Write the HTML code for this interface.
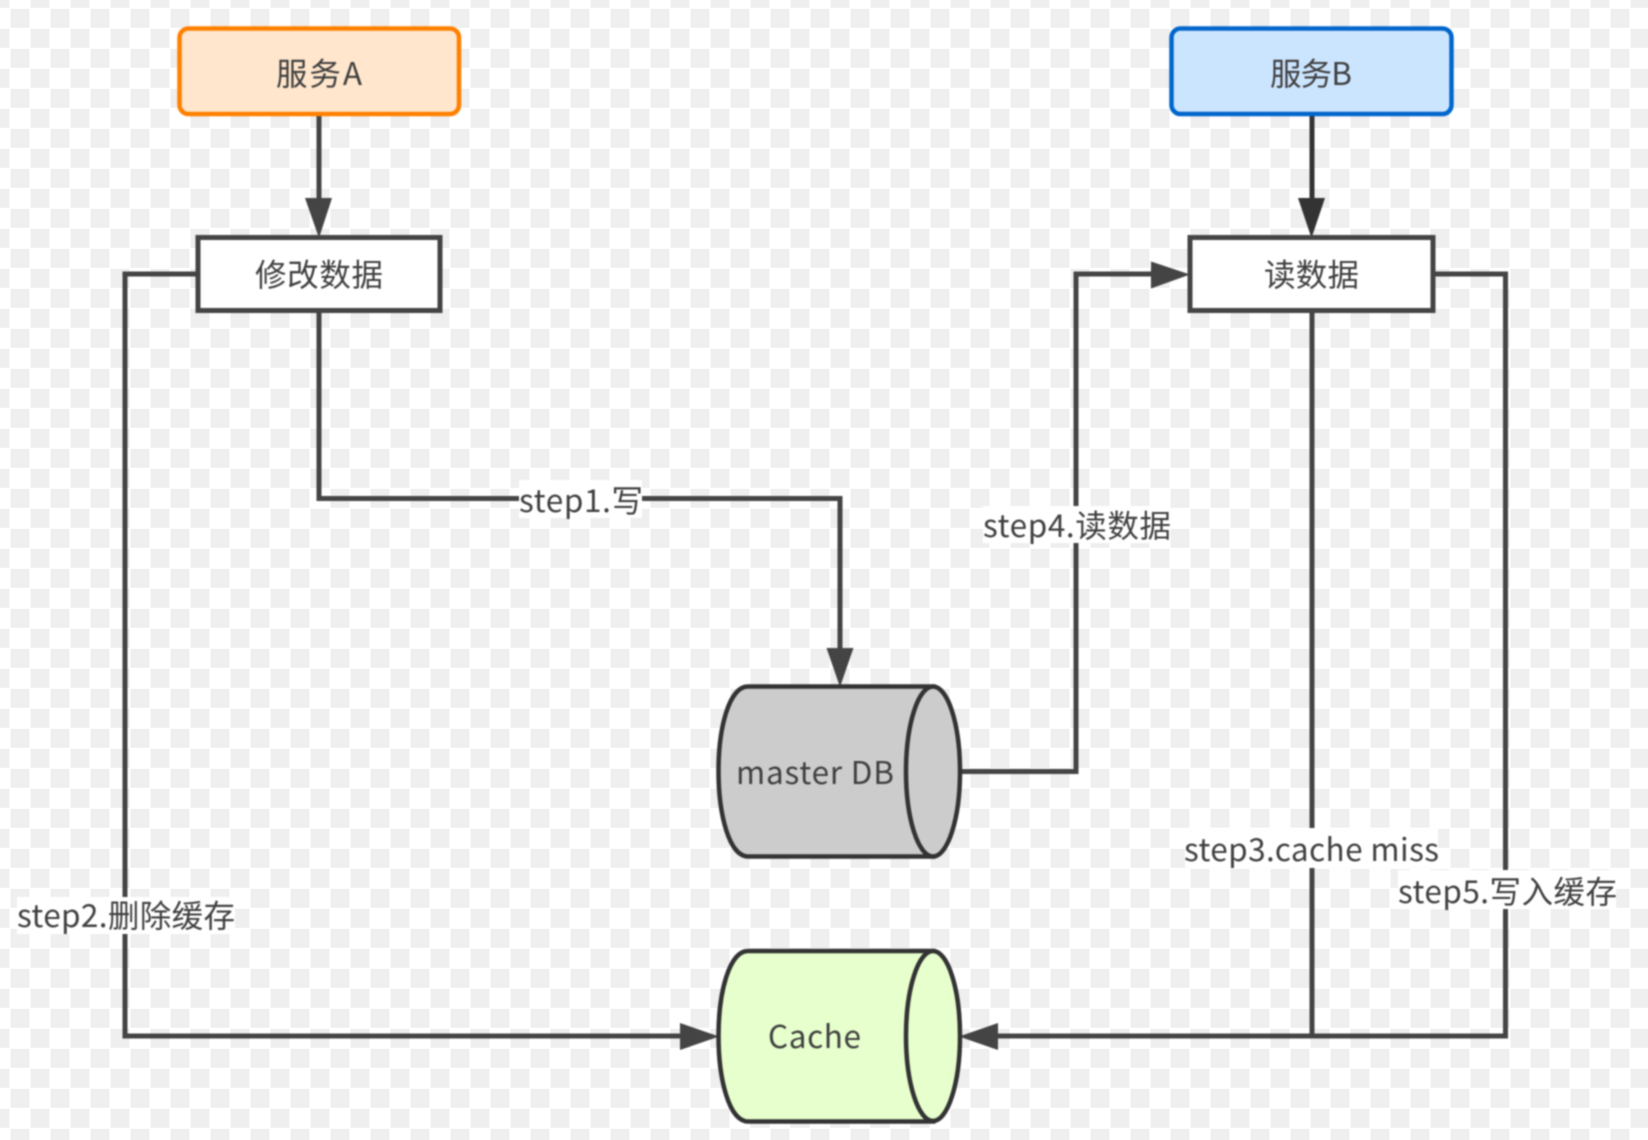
<!DOCTYPE html>
<html>
<head>
<meta charset="utf-8">
<style>
html,body{margin:0;padding:0;width:1648px;height:1140px;overflow:hidden;background:#fff}
#bg{position:absolute;left:0;top:0;width:1648px;height:1140px}
svg#d{position:absolute;left:0;top:0;filter:blur(0.7px)}
text{font-family:"Noto Sans CJK SC","Liberation Sans",sans-serif;font-size:31.5px;fill:#404040}
</style>
</head>
<body>
<svg id="bg" width="1648" height="1140" xmlns="http://www.w3.org/2000/svg">
<defs>
<pattern id="c" width="40" height="40" patternUnits="userSpaceOnUse" x="10" y="8.3">
<rect width="40" height="40" fill="#fff"/>
<rect x="0.5" y="0.5" width="19" height="19" fill="#efefef"/>
<rect x="20.5" y="20.5" width="19" height="19" fill="#efefef"/>
</pattern>
</defs>
<rect width="1648" height="1140" fill="url(#c)"/>
</svg>
<svg id="d" width="1648" height="1140" xmlns="http://www.w3.org/2000/svg">
<!-- connectors -->
<g fill="none" stroke="#444" stroke-width="5">
<path d="M319 115V200"/>
<path d="M319 312V498.5H840V650"/>
<path d="M196 274H125V1036H684"/>
<path d="M961 771.5H1076V274H1152"/>
<path d="M1312 312V1036"/>
<path d="M1435 274H1505.5V1036H998"/>
<path d="M1312 115V200" stroke="#333"/>
</g>
<!-- arrowheads -->
<g fill="#444">
<polygon points="305,198 332,198 319,238"/>
<polygon points="826.5,648 853.5,648 840,687"/>
<polygon points="680,1023 680,1050 719,1036.5"/>
<polygon points="998,1023 998,1050 959,1036.5"/>
<polygon points="1151,261.5 1151,288.5 1190,274.5"/>
<polygon points="1298,198 1325,198 1311.5,238" fill="#333"/>
</g>
<!-- service boxes -->
<rect x="179.5" y="28.5" width="279.5" height="85.5" rx="9" fill="#ffe6cc" stroke="#ff8000" stroke-width="4.5"/>
<rect x="1171.5" y="28.5" width="280" height="85.5" rx="9" fill="#cce5ff" stroke="#0066cc" stroke-width="4.5"/>
<!-- action boxes -->
<rect x="198" y="237.5" width="242" height="73" fill="#fff" stroke="#444" stroke-width="5"/>
<rect x="1190" y="237.5" width="243" height="73" fill="#fff" stroke="#444" stroke-width="5"/>
<!-- cylinders -->
<g stroke="#333" stroke-width="4.5">
<path d="M933 686.5H748C729 686.5 718.5 728 718.5 771S729 856.5 748 856.5H933Z" fill="#ccc"/>
<ellipse cx="933" cy="771.5" rx="27" ry="85" fill="#ccc"/>
<path d="M933 951H748C729 951 718.5 993 718.5 1036S729 1121.5 748 1121.5H933Z" fill="#e6ffcc"/>
<ellipse cx="933" cy="1036" rx="27" ry="85" fill="#e6ffcc"/>
</g>
<!-- label backgrounds -->
<g fill="#fff">
<rect x="519" y="480" width="123" height="38"/>
<rect x="983" y="506" width="187" height="37"/>
<rect x="17" y="897" width="218" height="37"/>
<rect x="1185" y="828" width="253" height="40"/>
<rect x="1398" y="870" width="218" height="39"/>
</g>
<!-- text -->
<text x="276" y="85" textLength="86" lengthAdjust="spacing">服务A</text>
<text x="1270" y="85" textLength="82" lengthAdjust="spacing">服务B</text>
<text x="255" y="286" textLength="128" lengthAdjust="spacing">修改数据</text>
<text x="1264" y="286" textLength="95" lengthAdjust="spacing">读数据</text>
<text x="736" y="784" textLength="158" lengthAdjust="spacing">master DB</text>
<text x="768" y="1048" textLength="93" lengthAdjust="spacing">Cache</text>
<text x="519" y="512" textLength="124" lengthAdjust="spacing">step1.写</text>
<text x="983" y="537" textLength="188" lengthAdjust="spacing">step4.读数据</text>
<text x="17" y="927" textLength="218" lengthAdjust="spacing">step2.删除缓存</text>
<text x="1184" y="861" textLength="255" lengthAdjust="spacing">step3.cache miss</text>
<text x="1398" y="903" textLength="219" lengthAdjust="spacing">step5.写入缓存</text>
</svg>
</body>
</html>
